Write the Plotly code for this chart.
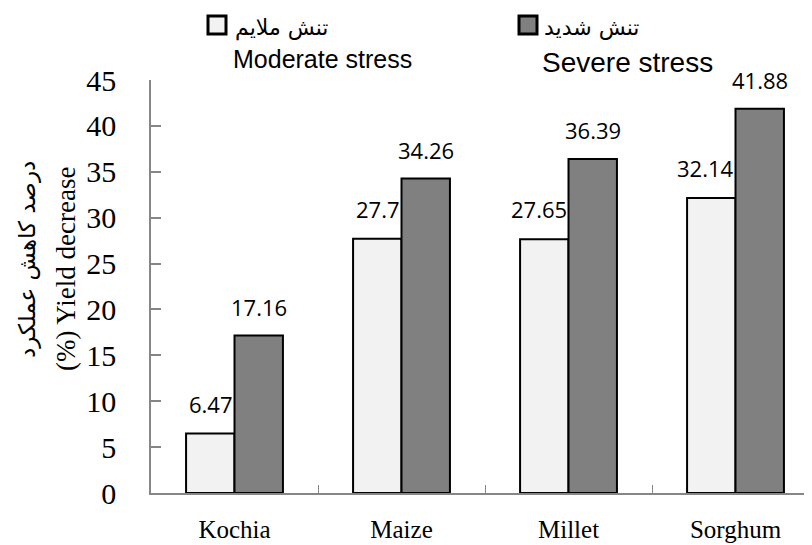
import plotly.graph_objects as go

categories = ["Kochia", "Maize", "Millet", "Sorghum"]
moderate = [6.47, 27.7, 27.65, 32.14]
severe = [17.16, 34.26, 36.39, 41.88]
moderate_label = "Moderate stress"
severe_label = "Severe stress"
moderate_fa = "تنش ملایم"
severe_fa = "تنش شدید"
y_title_fa = "درصد کاهش عملکرد"
y_title_en = "(%) Yield decrease"
y_ticks = list(range(0, 46, 5))

# page has an 8px body margin; coordinates below are page pixels
OFF = 8
W, H = 812 - OFF, 545 - OFF
X0, X1, Y0, Y1 = 151, 812, 80, 493  # plot area in page pixels
L, R, T, B = X0 - OFF, 812 - X1, Y0 - OFF, 545 - Y1
PW, PH = X1 - X0, Y1 - Y0


def px(x):
    return (x - X0) / PW


def py(y):
    return (Y1 - y) / PH


LIGHT = "#f2f2f2"
DARK = "#808080"
AXIS = "#868686"

fig = go.Figure()
fig.add_trace(go.Bar(x=categories, y=moderate, name=moderate_label,
                     marker=dict(color=LIGHT, line=dict(color="black", width=2)),
                     showlegend=False))
fig.add_trace(go.Bar(x=categories, y=severe, name=severe_label,
                     marker=dict(color=DARK, line=dict(color="black", width=2)),
                     showlegend=False))

bargap = 0.42
half = (1 - bargap) / 4  # centre offset of each bar in the group
ann = []
lab_font = dict(family="Open Sans, Liberation Sans, sans-serif", size=22, color="black")
for i, (m, s) in enumerate(zip(moderate, severe)):
    ann.append(dict(x=i, y=m, xref="x", yref="y", text=f"{m:g}", showarrow=False,
                    xanchor="right", yanchor="middle", yshift=30, font=lab_font))
    ann.append(dict(x=i + half, y=s, xref="x", yref="y", text=f"{s:g}", showarrow=False,
                    xanchor="center", yanchor="middle", yshift=29, font=lab_font))

# y title (two lines)
ann.append(dict(x=px(27), y=py(260), xref="paper", yref="paper", text=y_title_fa,
                textangle=-90, showarrow=False, xanchor="center", yanchor="middle",
                font=dict(family="DejaVu Sans, sans-serif", size=23, color="black")))
ann.append(dict(x=px(66), y=py(269), xref="paper", yref="paper", text=y_title_en,
                textangle=-90, showarrow=False, xanchor="center", yanchor="middle",
                font=dict(family="Liberation Serif, Times New Roman, serif", size=27, color="black")))

# legend
fa_font = dict(family="DejaVu Sans, sans-serif", size=22, color="black")
ann.append(dict(x=px(233), y=py(28), xref="paper", yref="paper", text=moderate_fa,
                showarrow=False, xanchor="left", yanchor="middle", font=fa_font))
ann.append(dict(x=px(542), y=py(28), xref="paper", yref="paper", text=severe_fa,
                showarrow=False, xanchor="left", yanchor="middle", font=fa_font))
ann.append(dict(x=px(231), y=py(59), xref="paper", yref="paper", text=moderate_label,
                showarrow=False, xanchor="left", yanchor="middle",
                font=dict(family="Liberation Sans, Arial, sans-serif", size=25, color="black")))
ann.append(dict(x=px(540), y=py(62), xref="paper", yref="paper", text=severe_label,
                showarrow=False, xanchor="left", yanchor="middle",
                font=dict(family="Liberation Sans, Arial, sans-serif", size=28, color="black")))

shapes = [
    dict(type="rect", xref="paper", yref="paper", x0=px(208), x1=px(226), y0=py(16), y1=py(34),
         fillcolor=LIGHT, line=dict(color="black", width=3)),
    dict(type="rect", xref="paper", yref="paper", x0=px(519), x1=px(537), y0=py(16), y1=py(34),
         fillcolor=DARK, line=dict(color="black", width=3)),
]

fig.update_layout(
    width=W, height=H,
    margin=dict(l=L, r=R, t=T, b=B, pad=0, autoexpand=False),
    paper_bgcolor="white", plot_bgcolor="white",
    barmode="group", bargap=bargap, bargroupgap=0,
    annotations=ann, shapes=shapes,
    xaxis=dict(type="category", range=[-0.5, 3.458], showline=True, linecolor=AXIS, linewidth=1.5,
               ticks="inside", tickson="boundaries", ticklen=8, tickcolor=AXIS, tickwidth=1,
               showgrid=False, zeroline=False, ticklabelstandoff=13, automargin=False,
               tickfont=dict(family="Liberation Serif, Times New Roman, serif", size=25, color="black")),
    yaxis=dict(range=[0, 45], tickvals=y_ticks, showline=True, linecolor=AXIS, linewidth=1.5,
               ticks="inside", ticklen=10, tickcolor=AXIS, tickwidth=1.5,
               showgrid=False, zeroline=False, ticklabelstandoff=27, automargin=False,
               tickfont=dict(family="Liberation Serif, Times New Roman, serif", size=30, color="black")),
)

fig.write_html("out.html")
